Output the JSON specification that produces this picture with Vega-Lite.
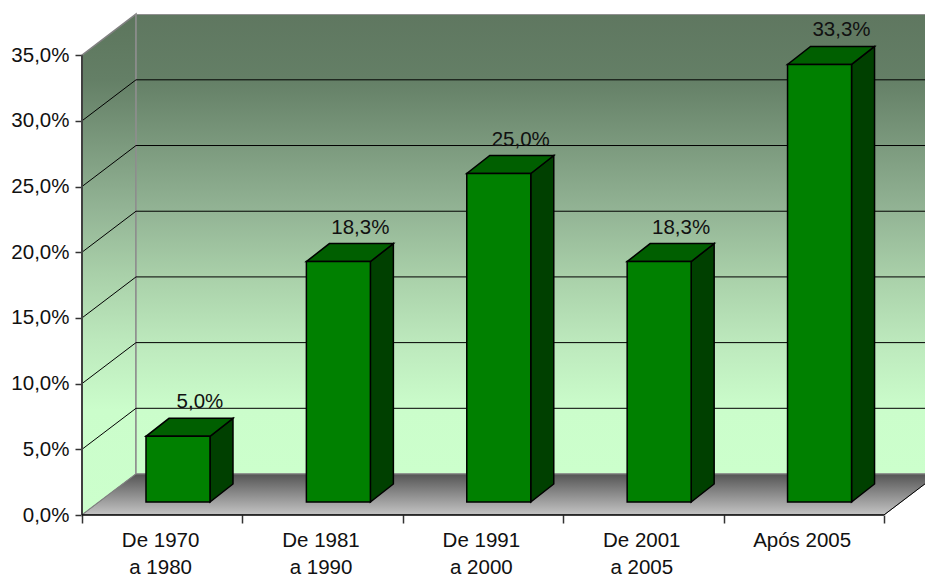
{
"$schema":"https://vega.github.io/schema/vega-lite/v6.json",
"width":843,"height":501,
"autosize":{"type":"none"},
"padding":{"left":82,"top":14,"right":0,"bottom":62},
"background":"white",
"config":{"view":{"stroke":null},"font":"Liberation Sans"},
"data":{"values":[
{"label":"De 1970\na 1980","value":5.0},
{"label":"De 1981\na 1990","value":18.3},
{"label":"De 1991\na 2000","value":25.0},
{"label":"De 2001\na 2005","value":18.3},
{"label":"Após 2005","value":33.3}]},
"transform":[
{"window":[{"op":"row_number","as":"n"}]},
{"calculate":"datum.n-1+0.399","as":"xl"},
{"calculate":"datum.n-1+0.798","as":"xr"},
{"calculate":"0.99+datum.value","as":"top"}
],
"layer":[
{"data":{"values":[{"t":0},{"t":1}]},"transform":[
{"calculate":"datum.t*0.3367","as":"px"},{"calculate":"datum.t*3.12","as":"py"},{"calculate":"35+datum.t*3.12","as":"py2"}],
"mark":{"type":"area","orient":"vertical","stroke":"#808080","strokeWidth":1.5,"color":{"gradient":"linear","x1":0,"y1":0,"x2":0,"y2":1,"stops":[{"offset":0,"color":"#5c755c"},{"offset":0.13,"color":"#647f66"},{"offset":0.39,"color":"#93b495"},{"offset":0.52,"color":"#a9d0a9"},{"offset":0.65,"color":"#bce8bc"},{"offset":0.79,"color":"#cbfdcb"},{"offset":1,"color":"#ccffcc"}]}},
"encoding":{
"x":{"field":"px","type":"quantitative","scale":{"domain":[0,5.256],"nice":false,"zero":false},"axis":{"values":[0,1,2,3,4,5],"labels":false,"domain":false,"grid":false,"tickSize":8,"tickColor":"#333333","tickWidth":1.5,"title":null}},
"y":{"field":"py","type":"quantitative","scale":{"domain":[0,38.13],"nice":false,"zero":false},"axis":{"values":[0,5,10,15,20,25,30,35],"domain":false,"grid":false,"tickSize":7,"tickColor":"#333333","tickWidth":1.5,"labelPadding":6,"labelFontSize":20.5,"labelColor":"#111111","labelExpr":"replace(format(datum.value,'.1f'),'.',',')+'%'","title":null}},
"y2":{"field":"py2"}}},
{"data":{"values":[{"t":0}]},
"mark":{"type":"rect","stroke":"#909090","strokeWidth":1.5,"color":{"gradient":"linear","x1":0,"y1":0,"x2":0,"y2":1,"stops":[{"offset":0,"color":"#5f7760"},{"offset":0.14,"color":"#647f66"},{"offset":0.43,"color":"#93b495"},{"offset":0.57,"color":"#a9d0a9"},{"offset":0.71,"color":"#bce8bc"},{"offset":0.86,"color":"#cbfdcb"},{"offset":1,"color":"#ccffcc"}]},"clip":true},
"encoding":{"x":{"datum":0.3367},"x2":{"datum":5.4},"y":{"datum":3.12},"y2":{"datum":38.12}}},
{"data":{"values":[{"t":0},{"t":1},{"t":2},{"t":3}]},"transform":[
{"calculate":"datum.t==0?0:datum.t==1?0.3367:datum.t==2?5:5.3367","as":"px"},
{"calculate":"datum.t==3?3.12:0","as":"py"},
{"calculate":"datum.t==0?0:3.12","as":"py2"}],
"mark":{"type":"area","orient":"vertical","clip":true,"stroke":"#808080","strokeWidth":1,"color":{"gradient":"linear","x1":0,"y1":0,"x2":0,"y2":1,"stops":[{"offset":0,"color":"#555555"},{"offset":1,"color":"#c4c4c4"}]}},
"encoding":{"x":{"field":"px","type":"quantitative"},"y":{"field":"py","type":"quantitative"},"y2":{"field":"py2"}}},
{"data":{"values":[{"v":5},{"v":10},{"v":15},{"v":20},{"v":25},{"v":30}]},"transform":[{"calculate":"datum.v+3.12","as":"v2"}],
"mark":{"type":"rule","color":"black","strokeWidth":1},
"encoding":{"x":{"datum":0},"x2":{"datum":0.3367},"y":{"field":"v","type":"quantitative"},"y2":{"field":"v2"}}},
{"data":{"values":[{"v":5},{"v":10},{"v":15},{"v":20},{"v":25},{"v":30}]},"transform":[{"calculate":"datum.v+3.12","as":"v2"}],
"mark":{"type":"rule","color":"black","strokeWidth":1},
"encoding":{"x":{"datum":0.3367},"x2":{"datum":5.256},"y":{"field":"v2","type":"quantitative"}}},
{"data":{"values":[{"t":0}]},
"mark":{"type":"rule","color":"#404040","strokeWidth":2},
"encoding":{"x":{"datum":0},"y":{"datum":0},"y2":{"datum":35}}},
{"data":{"values":[{"t":0}]},
"mark":{"type":"rule","color":"black","strokeWidth":1.5},
"encoding":{"x":{"datum":0},"x2":{"datum":5},"y":{"datum":0}}},
{"data":{"values":[{"t":0}]},
"mark":{"type":"rule","color":"black","strokeWidth":1,"clip":true},
"encoding":{"x":{"datum":5},"x2":{"datum":5.3367},"y":{"datum":0},"y2":{"datum":3.12}}},
{"transform":[{"calculate":"[0,1]","as":"t"},{"flatten":["t"]},
{"calculate":"datum.xr+datum.t*0.1434","as":"px"},
{"calculate":"datum.top+datum.t*1.37","as":"py"},
{"calculate":"0.99+datum.t*1.37","as":"py2"}],
"mark":{"type":"area","orient":"vertical","color":"#004000","stroke":"black","strokeWidth":1.5},
"encoding":{"x":{"field":"px","type":"quantitative"},"y":{"field":"py","type":"quantitative"},"y2":{"field":"py2"},"detail":{"field":"label"}}},
{"transform":[{"calculate":"[0,1,2,3]","as":"t"},{"flatten":["t"]},
{"calculate":"datum.t==0?datum.xl:datum.t==1?datum.xl+0.1434:datum.t==2?datum.xr:datum.xr+0.1434","as":"px"},
{"calculate":"datum.t==3?datum.top+1.37:datum.top","as":"py"},
{"calculate":"datum.t==0?datum.top:datum.top+1.37","as":"py2"}],
"mark":{"type":"area","orient":"vertical","color":"#005f00","stroke":"black","strokeWidth":1.5},
"encoding":{"x":{"field":"px","type":"quantitative"},"y":{"field":"py","type":"quantitative"},"y2":{"field":"py2"},"detail":{"field":"label"}}},
{"mark":{"type":"rect","color":"#008000","stroke":"black","strokeWidth":1.5},
"transform":[{"calculate":"0.99","as":"base"}],
"encoding":{"x":{"field":"xl","type":"quantitative"},"x2":{"field":"xr"},"y":{"field":"base","type":"quantitative"},"y2":{"field":"top"}}},
{"transform":[
{"calculate":"(datum.xl+datum.xr)/2+0.137","as":"lx"},
{"calculate":"datum.top+1.37","as":"ly"},
{"calculate":"replace(format(datum.value,'.1f'),'.',',')+'%'","as":"txt"}],
"mark":{"type":"text","fontSize":20.5,"color":"#111111","align":"center","baseline":"alphabetic","dy":-10},
"encoding":{"x":{"field":"lx","type":"quantitative"},"y":{"field":"ly","type":"quantitative"},"text":{"field":"txt"}}},
{"transform":[{"calculate":"datum.n-1+0.49","as":"cx"}],
"mark":{"type":"text","fontSize":20.5,"color":"#111111","align":"center","baseline":"alphabetic","lineBreak":"\n","lineHeight":27,"dy":32},
"encoding":{"x":{"field":"cx","type":"quantitative"},"y":{"datum":0},"text":{"field":"label"}}}
]
}
